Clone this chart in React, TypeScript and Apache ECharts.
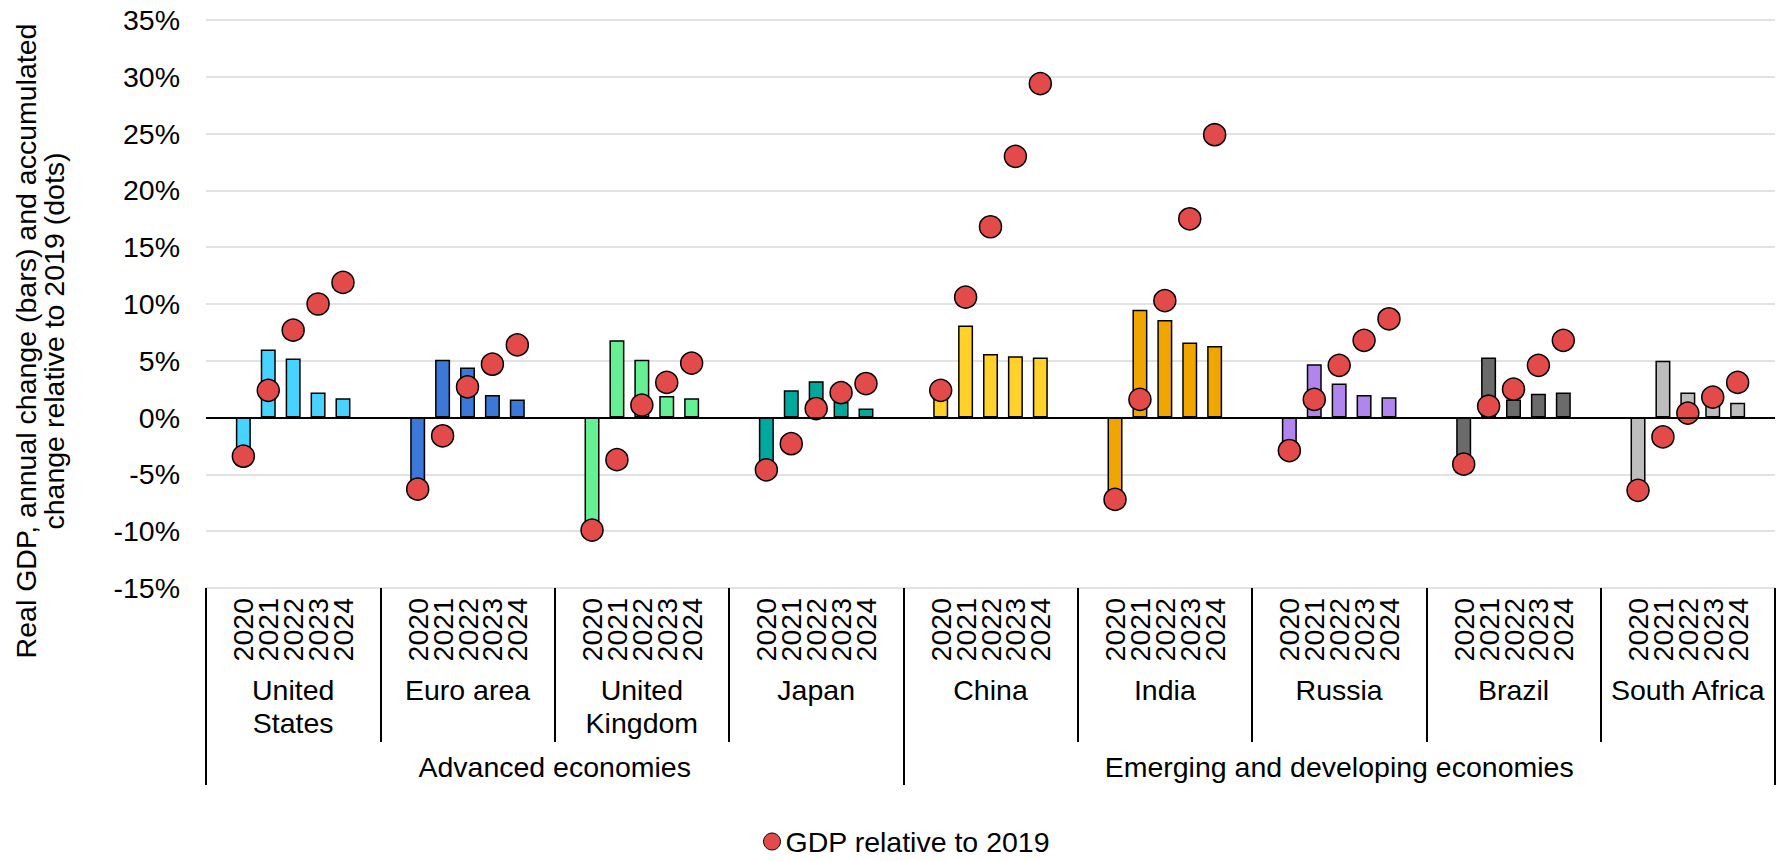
import React, { useEffect, useRef } from "react";
import * as echarts from "echarts";

// ---- Data ----
const countries = [
  "United\nStates",
  "Euro area",
  "United\nKingdom",
  "Japan",
  "China",
  "India",
  "Russia",
  "Brazil",
  "South Africa",
];
const years = ["2020", "2021", "2022", "2023", "2024"];
const groupNames = ["Advanced economies", "Emerging and developing economies"];
const groupSizes = [4, 5];

// annual change (bars), %
const usBars = [-3.4, 6.0, 5.2, 2.2, 1.7];
const euroBars = [-6.3, 5.1, 4.4, 2.0, 1.6];
const ukBars = [-9.9, 6.8, 5.1, 1.9, 1.7];
const japanBars = [-4.6, 2.4, 3.2, 1.4, 0.8];
const chinaBars = [2.4, 8.1, 5.6, 5.4, 5.3];
const indiaBars = [-7.2, 9.5, 8.6, 6.6, 6.3];
const russiaBars = [-2.9, 4.7, 3.0, 2.0, 1.8];
const brazilBars = [-4.1, 5.3, 1.6, 2.1, 2.2];
const southAfricaBars = [-6.4, 5.0, 2.2, 1.4, 1.3];

// GDP relative to 2019 (dots), %
const usDots = [-3.4, 2.4, 7.7, 10.0, 11.9];
const euroDots = [-6.3, -1.6, 2.7, 4.7, 6.4];
const ukDots = [-9.9, -3.7, 1.1, 3.1, 4.8];
const japanDots = [-4.6, -2.3, 0.8, 2.2, 3.0];
const chinaDots = [2.4, 10.6, 16.8, 23.0, 29.4];
const indiaDots = [-7.2, 1.6, 10.3, 17.5, 24.9];
const russiaDots = [-2.9, 1.6, 4.6, 6.8, 8.7];
const brazilDots = [-4.1, 1.0, 2.5, 4.6, 6.8];
const southAfricaDots = [-6.4, -1.7, 0.4, 1.8, 3.1];

const countryColors = [
  "#47D3FF",
  "#3B78D8",
  "#66F094",
  "#00A99D",
  "#FFD12A",
  "#F0A500",
  "#B185EE",
  "#6B6B6B",
  "#BDBDBD",
];

const yTicks = { min: -15, max: 35, interval: 5 };
const dotName = "GDP relative to 2019";
const yTitle = "Real GDP, annual change (bars) and accumulated\nchange relative to 2019 (dots)";

const allBars = [usBars, euroBars, ukBars, japanBars, chinaBars, indiaBars, russiaBars, brazilBars, southAfricaBars];
const allDots = [usDots, euroDots, ukDots, japanDots, chinaDots, indiaDots, russiaDots, brazilDots, southAfricaDots];

const FONT = "'Liberation Sans', Arial, Helvetica, sans-serif";
const FS = 28.5;

export default function App() {
  const ref = useRef<HTMLDivElement>(null);

  useEffect(() => {
    document.body.style.margin = "0";
    if (!ref.current) return;
    const chart = echarts.init(ref.current, undefined, { renderer: "svg" });

    // category slots: blank, 5 years, blank per country
    const slots: string[] = [];
    const barData: any[] = [];
    const dotData: any[] = [];
    countries.forEach((_, ci) => {
      slots.push("");
      barData.push("-");
      dotData.push("-");
      years.forEach((y, yi) => {
        slots.push(y);
        barData.push({ value: allBars[ci][yi], itemStyle: { color: countryColors[ci] } });
        dotData.push(allDots[ci][yi]);
      });
      slots.push("");
      barData.push("-");
      dotData.push("-");
    });

    // group axis: half-country points
    const nHalf = countries.length * 2 + 1;
    const groupPoints: string[] = new Array(nHalf).fill("");
    const groupTickIdx: number[] = [0];
    let start = 0;
    groupSizes.forEach((sz, gi) => {
      groupPoints[start * 2 + sz] = groupNames[gi];
      start += sz;
      groupTickIdx.push(start * 2);
    });

    const option: any = {
      animation: false,
      textStyle: { fontFamily: FONT },
      grid: { left: 206, right: 2, top: 20, bottom: 273, containLabel: false },
      legend: {
        data: [dotName],
        left: 763,
        top: 827,
        padding: 0,
        icon: "circle",
        itemWidth: 17,
        itemHeight: 17,
        itemStyle: { borderColor: "#000", borderWidth: 1 },
        textStyle: { fontSize: FS, lineHeight: 26, color: "#000", fontFamily: FONT },
        selectedMode: false,
      },
      xAxis: [
        {
          type: "category",
          data: slots,
          axisLine: { show: false },
          axisTick: { show: false },
          axisLabel: {
            interval: 0,
            rotate: 90,
            margin: 10,
            fontSize: FS,
            color: "#000",
            fontFamily: FONT,
          },
        },
        {
          type: "category",
          data: countries,
          position: "bottom",
          axisLine: { show: false },
          axisTick: { show: true, interval: 0, length: 154, lineStyle: { color: "#000", width: 2 } },
          axisLabel: {
            interval: 0,
            margin: 85,
            fontSize: FS,
            lineHeight: 33,
            color: "#000",
            fontFamily: FONT,
            verticalAlign: "top",
          },
        },
        {
          type: "category",
          data: groupPoints,
          boundaryGap: false,
          position: "bottom",
          axisLine: { show: false },
          axisTick: {
            show: true,
            interval: (i: number) => groupTickIdx.indexOf(i) >= 0,
            length: 197,
            lineStyle: { color: "#000", width: 2 },
          },
          axisLabel: {
            interval: 0,
            margin: 162,
            fontSize: FS,
            lineHeight: 33,
            color: "#000",
            fontFamily: FONT,
            verticalAlign: "top",
          },
        },
      ],
      yAxis: {
        type: "value",
        min: yTicks.min,
        max: yTicks.max,
        interval: yTicks.interval,
        axisLine: { show: false },
        axisTick: { show: false },
        axisLabel: { formatter: "{value}%", fontSize: FS, color: "#000", margin: 26, fontFamily: FONT },
        splitLine: { lineStyle: { color: "#D9D9D9", width: 1.5 } },
      },
      graphic: [
        {
          type: "text",
          x: 40,
          y: 341,
          rotation: Math.PI / 2,
          style: {
            text: yTitle,
            font: `${FS}px ${FONT}`,
            fill: "#000",
            textAlign: "center",
            textVerticalAlign: "middle",
            lineHeight: 28,
          },
        },
      ],
      series: [
        {
          name: "Annual change",
          type: "bar",
          xAxisIndex: 0,
          data: barData,
          barWidth: 15,
          itemStyle: { borderColor: "#000", borderWidth: 1.5 },
          z: 2,
          markLine: {
            silent: true,
            symbol: "none",
            label: { show: false },
            lineStyle: { color: "#000", width: 2, type: "solid" },
            data: [{ yAxis: 0 }],
          },
        },
        {
          name: dotName,
          type: "scatter",
          xAxisIndex: 0,
          data: dotData,
          symbol: "circle",
          symbolSize: 22,
          itemStyle: { color: "#E34A4A", borderColor: "#000", borderWidth: 1.5, opacity: 1 },
          z: 4,
        },
      ],
    };
    chart.setOption(option);
    return () => chart.dispose();
  }, []);

  return <div ref={ref} style={{ width: 1778, height: 861 }} />;
}
